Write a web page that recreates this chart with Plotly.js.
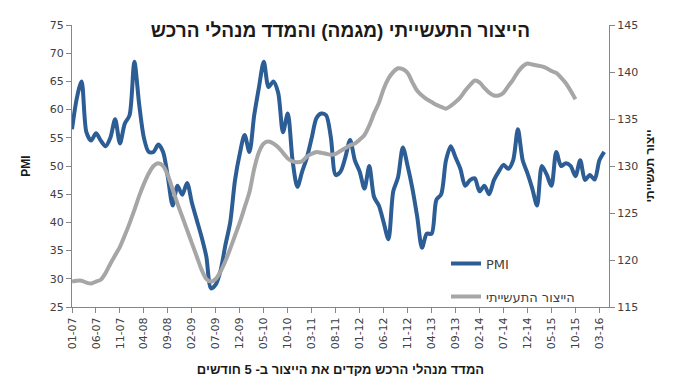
<!DOCTYPE html>
<html>
<head>
<meta charset="utf-8">
<script src="https://cdn.plot.ly/plotly-3.0.1.min.js"></script>
<style>html,body{margin:0;padding:0;background:#fff;}#chart{width:681px;height:385px;}</style>
</head>
<body>
<div id="chart"></div>
<script>
// Monthly PMI, Jan-2007 .. Apr-2016
var pmi = [
 56.5,62,65,56,54.5,55.8,54.5,53.5,55,58.3,
 54,57.5,59,68.5,61,55,52.5,52.5,53.8,52.5,
 48,43,46.5,44.9,47,43.5,40.5,37.5,34,28.3,
 29,31.5,36,40,47.5,52.2,55.5,52.5,59,64,
 68.5,64,65,63,56,59.3,51,46.3,49,51.5,
 55,58.5,59.3,59,55,48.4,49,51.5,54.6,51,
 49,46,50,44.5,43,40,37,45.5,48,53.3,
 50,46,41,35.5,38,38,44,45,51,53.5,
 51.5,49.5,46.5,47.5,47.8,45.5,46.5,45,47.5,49,
 50.2,49.5,51,56.5,51,48.7,46,43,50,48.5,
 46.5,52.5,50,50.5,50,48.2,51,47.5,48.4,47.6,
 51,52.5
];
// Industrial production (trend), shifted by 5 months
var production = [
 117.7,117.8,117.8,117.6,117.5,117.7,117.9,118.6,119.6,120.5,
 121.4,122.6,123.9,125.3,126.8,128.1,129.2,130.0,130.3,130.0,
 129.0,127.5,126.0,124.6,123.2,121.8,120.4,119.0,118.0,117.7,
 118.0,118.8,119.9,121.2,122.6,124.0,125.6,127.2,129.7,131.5,
 132.4,132.6,132.4,132.0,131.4,130.8,130.5,130.4,130.5,131.0,
 131.3,131.5,131.4,131.3,131.2,131.3,131.6,131.9,132.2,132.4,
 132.8,133.3,134.3,135.6,136.7,138.2,139.3,140.0,140.4,140.3,
 139.9,138.9,138.0,137.5,137.1,136.8,136.5,136.3,136.1,136.4,
 136.8,137.3,138.0,138.6,139.1,138.9,138.3,137.8,137.5,137.5,
 137.8,138.5,139.2,140.0,140.6,140.9,140.8,140.7,140.6,140.4,
 140.1,139.9,139.4,138.8,138.0,137.1
];
var tickLabels = ["01-07","06-07","11-07","04-08","09-08","02-09","07-09","12-09","05-10","10-10","03-11","08-11","01-12","06-12","11-12","04-13","09-13","02-14","07-14","12-14","05-15","10-15","03-16"];
var titleText = "הייצור התעשייתי (מגמה) והמדד מנהלי הרכש";
var xTitle = "המדד מנהלי הרכש מקדים את הייצור ב- 5 חודשים";
var y2Title = "ייצור תעשייתי";
var pmiName = "PMI";
var prodName = "הייצור התעשייתי";

// month category labels MM-YY
var months = [];
for (var i = 0; i < 113; i++) {
  var m = i % 12 + 1, y = 7 + Math.floor(i / 12);
  months.push((m < 10 ? "0" : "") + m + "-" + (y < 10 ? "0" : "") + y);
}

var tickFont = {family: "DejaVu Sans, Verdana, sans-serif", size: 11, color: "#404040"};
var legFont = {family: "DejaVu Sans, Verdana, sans-serif", size: 13, color: "#404040"};

var traces = [
  {x: months.slice(0, pmi.length), y: pmi, name: pmiName, type: "scatter", mode: "lines",
   line: {color: "#2D5D95", width: 4, shape: "spline", smoothing: 0.8}, yaxis: "y", legend: "legend"},
  {x: months.slice(0, production.length), y: production, name: prodName, type: "scatter", mode: "lines",
   line: {color: "#A6A6A6", width: 4, shape: "spline", smoothing: 0.8}, yaxis: "y2", legend: "legend2"}
];

var layout = {
  width: 681, height: 385,
  margin: {l: 72, r: 72, t: 25, b: 78},
  paper_bgcolor: "#fff", plot_bgcolor: "#fff",
  showlegend: true,
  title: {text: titleText, font: {family: "Liberation Sans, Arial, sans-serif", size: 19, color: "#1a1a1a", weight: "bold"},
          x: 0.5, xanchor: "center", y: 1 - 30/385, yanchor: "middle", yref: "container"},
  xaxis: {type: "category", range: [0, 112], tickmode: "array", tickvals: tickLabels, ticktext: tickLabels,
          tickangle: -90, tickfont: tickFont, ticks: "outside", ticklen: 5, tickcolor: "#868686",
          showline: true, linecolor: "#868686", linewidth: 1, showgrid: false, zeroline: false,
          automargin: false,
          title: {text: xTitle, font: {family: "Liberation Sans, Arial, sans-serif", size: 13, color: "#1a1a1a", weight: "bold"}, standoff: 16}},
  yaxis: {range: [25, 75], dtick: 5, tickfont: tickFont, ticks: "outside", ticklen: 5, tickcolor: "#868686",
          showline: true, linecolor: "#868686", linewidth: 1, showgrid: false, zeroline: false, automargin: false,
          title: {text: "PMI", font: {family: "Liberation Sans, Arial, sans-serif", size: 12, color: "#1a1a1a", weight: "bold"}, standoff: 16}},
  yaxis2: {range: [115, 145], dtick: 5, overlaying: "y", side: "right", tickfont: tickFont, ticks: "outside", ticklen: 5,
           tickcolor: "#868686", showline: true, linecolor: "#868686", linewidth: 1, showgrid: false, zeroline: false, automargin: false,
           title: {text: y2Title, font: {family: "Liberation Sans, Arial, sans-serif", size: 12, color: "#1a1a1a", weight: "bold"}, standoff: 8}},
  legend: {x: 0.6965, y: 0.207, xanchor: "left", yanchor: "top", bgcolor: "rgba(0,0,0,0)", font: legFont},
  legend2: {x: 0.6965, y: 0.09, xanchor: "left", yanchor: "top", bgcolor: "rgba(0,0,0,0)", font: legFont}
};

Plotly.newPlot("chart", traces, layout, {displayModeBar: false, staticPlot: true});
</script>
</body>
</html>
